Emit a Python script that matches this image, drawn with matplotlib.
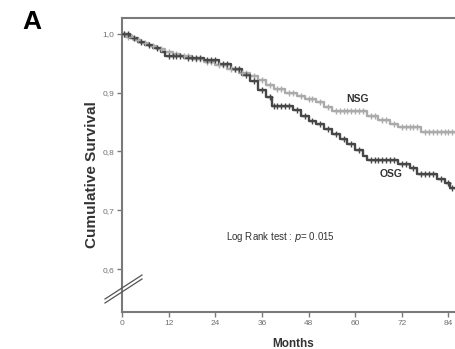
import numpy as np
import matplotlib
matplotlib.use("Agg")
import matplotlib.pyplot as plt
from matplotlib.lines import Line2D

plt.rcParams["font.family"] = ["Liberation Sans", "DejaVu Sans"]

# Kaplan-Meier steps (months, cumulative survival)
nsg_t = [0, 1, 3, 5, 7, 9, 11, 13, 15, 18, 21, 24, 27, 30, 33, 35, 37, 39,
         42, 45, 47, 50, 52, 54, 63, 66, 69, 71, 77]
nsg_s = [1.0, 0.995, 0.990, 0.985, 0.980, 0.975, 0.970, 0.966, 0.962, 0.957,
         0.952, 0.947, 0.940, 0.934, 0.928, 0.921, 0.913, 0.906, 0.900, 0.894,
         0.889, 0.884, 0.876, 0.868, 0.860, 0.853, 0.846, 0.841, 0.833]

osg_t = [0, 2, 4, 6, 8, 10, 11, 16, 21, 25, 28, 31, 33, 35, 37, 38.5, 44, 46,
         48, 50, 52, 54, 56, 58, 60, 62, 63, 71, 74, 76, 81, 83, 84.5, 86]
osg_s = [1.0, 0.993, 0.987, 0.981, 0.976, 0.970, 0.962, 0.959, 0.955, 0.948,
         0.940, 0.930, 0.920, 0.905, 0.892, 0.878, 0.870, 0.860, 0.852, 0.846,
         0.838, 0.830, 0.822, 0.812, 0.803, 0.793, 0.786, 0.779, 0.772, 0.762,
         0.754, 0.746, 0.738, 0.732]

# censored observations (months)
nsg_cens = [0.5, 1.5, 2.5, 4, 6, 8, 10, 12, 14, 16, 17, 19, 20, 22, 23, 25,
            26, 28, 29, 31, 32, 34, 36, 38, 40, 41, 43, 44, 46, 48, 49, 51,
            53, 55, 56, 57, 58, 59, 60, 61, 62, 64, 65, 67, 68, 70, 72, 73,
            74, 75, 76, 78, 79, 80, 81, 82, 83, 84, 85, 86, 87]
osg_cens = [0.5, 1.5, 3, 5, 7, 9, 12, 13, 14, 15, 17, 18, 19, 20, 22, 23,
            24, 26, 27, 29, 30, 32, 34, 36, 38, 39, 40, 41, 42, 43, 45, 47,
            49, 51, 53, 55, 57, 59, 61, 64, 65, 66, 67, 68, 69, 70, 72, 73,
            75, 77, 78, 79, 80, 82, 84, 85, 87]

xticks = [0, 12, 24, 36, 48, 60, 72, 84]
yticks = [0.6, 0.7, 0.8, 0.9, 1.0]
ylabels = ["0,6", "0,7", "0,8", "0,9", "1,0"]

XMAX = 88
YMIN, YMAX = 0.527, 1.027


def step_value(times, surv, x):
    idx = np.searchsorted(times, x, side="right") - 1
    return np.asarray(surv)[idx]


fig = plt.figure(figsize=(4.56, 3.49), dpi=100)
ax = fig.add_axes([122 / 456, 37 / 349, (464 - 122) / 456, (312 - 18) / 349])

groups = [
    (nsg_t, nsg_s, nsg_cens, "#ababab"),
    (osg_t, osg_s, osg_cens, "#474747"),
]
for t, s, cens, color in groups:
    t_end = t + [XMAX]
    s_end = s + [s[-1]]
    ax.step(t_end, s_end, where="post", color=color, lw=1.7, zorder=3)
    cy = step_value(t, s, cens)
    ax.plot(cens, cy, ls="none", marker="+", ms=5, mew=1.0, color=color,
            zorder=4)

ax.set_xlim(0, XMAX)
ax.set_ylim(YMIN, YMAX)
ax.set_xticks(xticks)
ax.set_xticklabels([str(v) for v in xticks])
ax.set_yticks(yticks)
ax.set_yticklabels(ylabels)

for side in ["left", "bottom", "top", "right"]:
    ax.spines[side].set_color("#7a7a7a")
    ax.spines[side].set_linewidth(1.5)

ax.tick_params(axis="both", direction="out", length=3.5, width=1.0,
               color="#7a7a7a", labelsize=6, labelcolor="#707070", pad=2)

ax.set_xlabel("Months", fontsize=8.5, fontweight="bold", color="#333333",
              labelpad=8)
ax.set_ylabel("Cumulative Survival", fontsize=11, fontweight="bold",
              color="#333333")
ax.yaxis.set_label_coords(-0.068, 0.466)

ax.text(60.5, 0.889, "NSG", fontsize=7.5, fontweight="bold", color="#333333",
        ha="center", va="center")
ax.text(69.2, 0.762, "OSG", fontsize=7.5, fontweight="bold", color="#333333",
        ha="center", va="center", zorder=5)
ax.text(40.7, 0.655, "Log Rank test : $p$= 0.015", fontsize=7,
        color="#333333", ha="center", va="center")

# axis break marks
for dy in (0, 4):
    fig.add_artist(Line2D([105 / 456, 142 / 456],
                          [1 - (303 - dy) / 349, 1 - (279 - dy) / 349],
                          color="#555555", lw=0.9))

fig.text(22 / 456, 1 - 22 / 349, "A", fontsize=19, fontweight="bold",
         ha="left", va="center")

fig.savefig("out.png", dpi=100)
